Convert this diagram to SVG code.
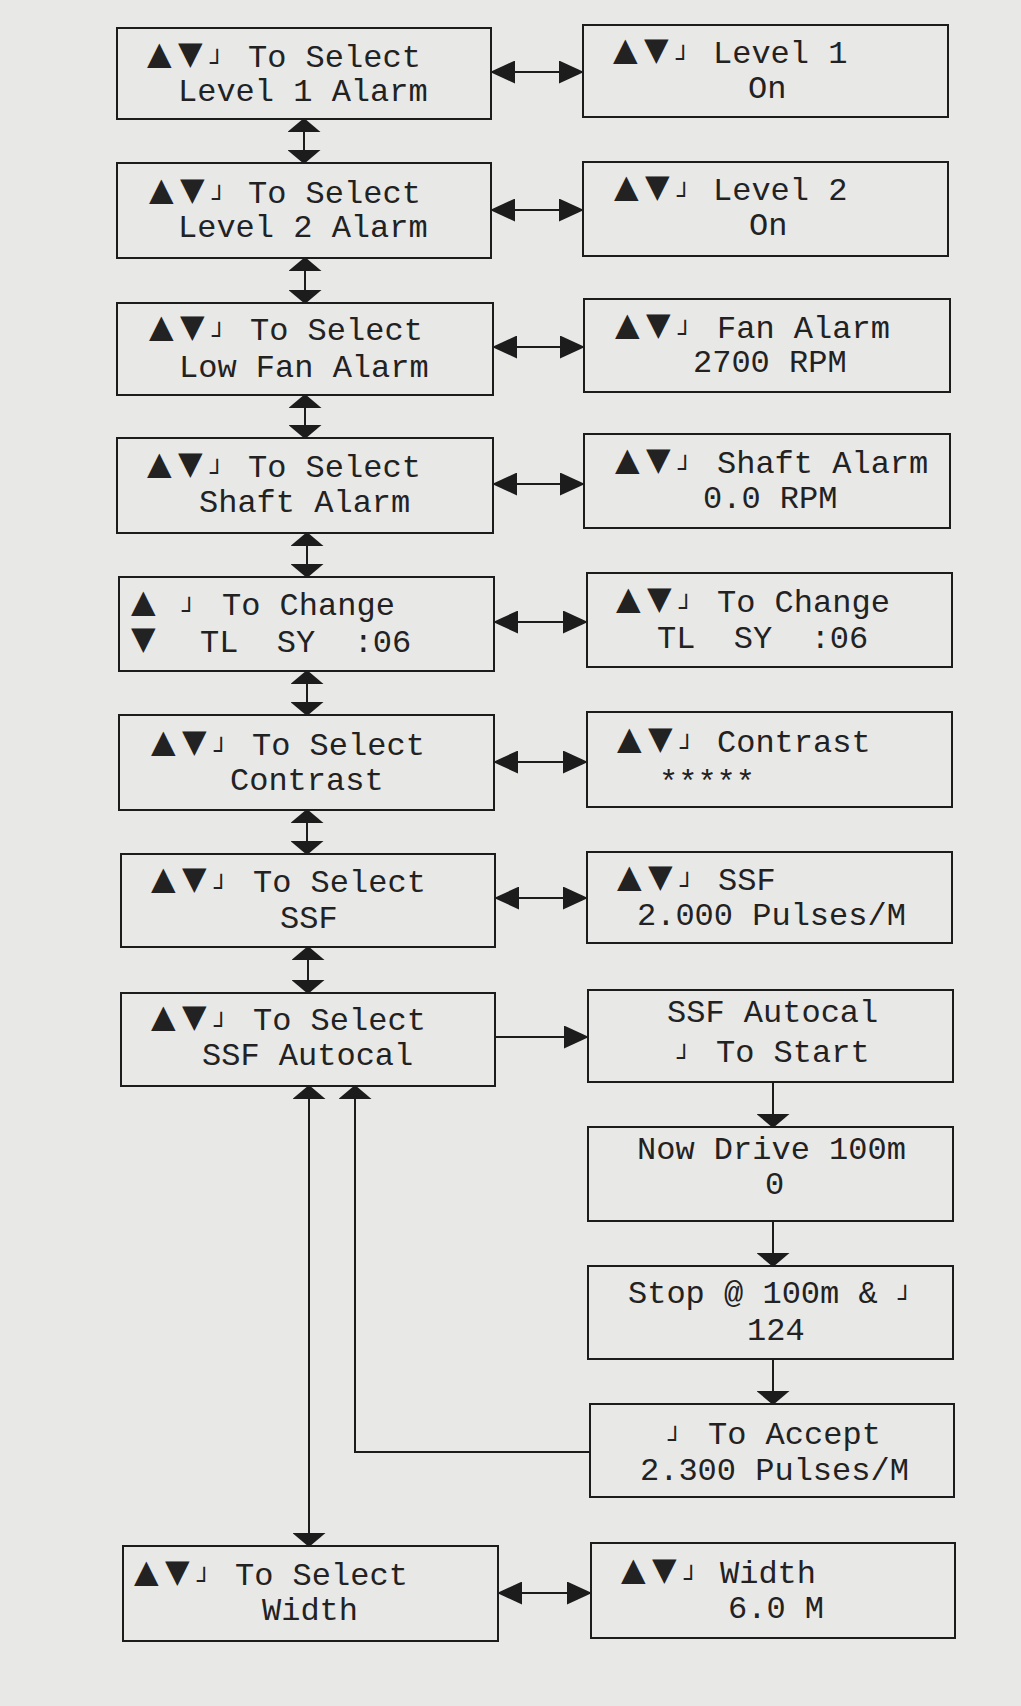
<svg xmlns="http://www.w3.org/2000/svg" width="1021" height="1706" viewBox="0 0 1021 1706">
<style>
.bg{fill:#e8e8e7}
.bx{fill:none;stroke:#1c1c1c;stroke-width:2}
.t{font-family:"Liberation Mono","Courier New",monospace;font-size:32px;fill:#222;white-space:pre}
.s{font-family:"DejaVu Sans",sans-serif;font-size:32px;baseline-shift:3px}
.r{font-family:"DejaVu Sans Mono",monospace;font-size:24px;baseline-shift:-4px}
.c{stroke:#1c1c1c;stroke-width:2;fill:none}
.h{marker-start:url(#ah);marker-end:url(#ah)}
.he{marker-end:url(#ah)}
.v{marker-start:url(#av);marker-end:url(#av)}
.ve{marker-end:url(#av)}
</style>
<defs>
<marker id="ah" viewBox="0 0 25 23" refX="24" refY="11.5" markerWidth="25" markerHeight="23" markerUnits="userSpaceOnUse" orient="auto-start-reverse"><path d="M0,0 L25,11.5 L0,23 z" fill="#1c1c1c"/></marker>
<marker id="av" viewBox="0 0 14 33" refX="13" refY="16.5" markerWidth="14" markerHeight="33" markerUnits="userSpaceOnUse" orient="auto-start-reverse"><path d="M0,0 L14,16.5 L0,33 z" fill="#1c1c1c"/></marker>
</defs>
<rect class="bg" x="0" y="0" width="1021" height="1706"/>

<g id="connectors">
<line class="c h" x1="491" y1="72" x2="583" y2="72"/>
<line class="c h" x1="491" y1="210" x2="583" y2="210"/>
<line class="c h" x1="493" y1="347" x2="584" y2="347"/>
<line class="c h" x1="493" y1="484" x2="584" y2="484"/>
<line class="c h" x1="494" y1="622" x2="587" y2="622"/>
<line class="c h" x1="494" y1="762" x2="587" y2="762"/>
<line class="c h" x1="495" y1="898" x2="587" y2="898"/>
<line class="c he" x1="495" y1="1037" x2="588" y2="1037"/>
<line class="c h" x1="498" y1="1593" x2="591" y2="1593"/>
<line class="c v" x1="304" y1="119" x2="304" y2="163"/>
<line class="c v" x1="305" y1="258" x2="305" y2="303"/>
<line class="c v" x1="305" y1="395" x2="305" y2="438"/>
<line class="c v" x1="307" y1="533" x2="307" y2="577"/>
<line class="c v" x1="307" y1="671" x2="307" y2="715"/>
<line class="c v" x1="307" y1="810" x2="307" y2="854"/>
<line class="c v" x1="308" y1="947" x2="308" y2="993"/>
<line class="c v" x1="309" y1="1086" x2="309" y2="1546"/>
<polyline class="c ve" points="590,1452 355,1452 355,1086"/>
<line class="c ve" x1="773" y1="1082" x2="773" y2="1127"/>
<line class="c ve" x1="773" y1="1221" x2="773" y2="1266"/>
<line class="c ve" x1="773" y1="1359" x2="773" y2="1404"/>
</g>

<g id="L1"><rect class="bx" x="117" y="28" width="374" height="91"/>
<text class="t" y="67"><tspan class="s" x="147">▲</tspan><tspan class="s" x="178">▼</tspan><tspan class="r" x="210">┘</tspan><tspan x="248">To Select</tspan></text>
<text class="t" x="178" y="101">Level 1 Alarm</text></g>

<g id="L2"><rect class="bx" x="117" y="163" width="374" height="95"/>
<text class="t" y="203"><tspan class="s" x="149">▲</tspan><tspan class="s" x="180">▼</tspan><tspan class="r" x="212">┘</tspan><tspan x="248">To Select</tspan></text>
<text class="t" x="178" y="237">Level 2 Alarm</text></g>

<g id="L3"><rect class="bx" x="117" y="303" width="376" height="92"/>
<text class="t" y="340"><tspan class="s" x="149">▲</tspan><tspan class="s" x="180">▼</tspan><tspan class="r" x="212">┘</tspan><tspan x="250">To Select</tspan></text>
<text class="t" x="179" y="377">Low Fan Alarm</text></g>

<g id="L4"><rect class="bx" x="117" y="438" width="376" height="95"/>
<text class="t" y="477"><tspan class="s" x="147">▲</tspan><tspan class="s" x="178">▼</tspan><tspan class="r" x="210">┘</tspan><tspan x="248">To Select</tspan></text>
<text class="t" x="199" y="512">Shaft Alarm</text></g>

<g id="L5"><rect class="bx" x="119" y="577" width="375" height="94"/>
<text class="t" y="615"><tspan class="s" x="131">▲</tspan><tspan class="r" x="182">┘</tspan><tspan x="222">To Change</tspan></text>
<text class="t" y="652" xml:space="preserve"><tspan class="s" x="131">▼</tspan><tspan x="200">TL  SY  :06</tspan></text></g>

<g id="L6"><rect class="bx" x="119" y="715" width="375" height="95"/>
<text class="t" y="755"><tspan class="s" x="151">▲</tspan><tspan class="s" x="182">▼</tspan><tspan class="r" x="214">┘</tspan><tspan x="252">To Select</tspan></text>
<text class="t" x="230" y="790">Contrast</text></g>

<g id="L7"><rect class="bx" x="121" y="854" width="374" height="93"/>
<text class="t" y="892"><tspan class="s" x="151">▲</tspan><tspan class="s" x="182">▼</tspan><tspan class="r" x="214">┘</tspan><tspan x="253">To Select</tspan></text>
<text class="t" x="280" y="928">SSF</text></g>

<g id="L8"><rect class="bx" x="121" y="993" width="374" height="93"/>
<text class="t" y="1030"><tspan class="s" x="151">▲</tspan><tspan class="s" x="182">▼</tspan><tspan class="r" x="214">┘</tspan><tspan x="253">To Select</tspan></text>
<text class="t" x="202" y="1065">SSF Autocal</text></g>

<g id="L9"><rect class="bx" x="123" y="1546" width="375" height="95"/>
<text class="t" y="1585"><tspan class="s" x="134">▲</tspan><tspan class="s" x="165">▼</tspan><tspan class="r" x="197">┘</tspan><tspan x="235">To Select</tspan></text>
<text class="t" x="262" y="1620">Width</text></g>

<g id="R1"><rect class="bx" x="583" y="25" width="365" height="92"/>
<text class="t" y="63"><tspan class="s" x="613">▲</tspan><tspan class="s" x="644">▼</tspan><tspan class="r" x="676">┘</tspan><tspan x="713">Level 1</tspan></text>
<text class="t" x="748" y="98">On</text></g>

<g id="R2"><rect class="bx" x="583" y="162" width="365" height="94"/>
<text class="t" y="200"><tspan class="s" x="614">▲</tspan><tspan class="s" x="645">▼</tspan><tspan class="r" x="677">┘</tspan><tspan x="713">Level 2</tspan></text>
<text class="t" x="749" y="235">On</text></g>

<g id="R3"><rect class="bx" x="584" y="299" width="366" height="93"/>
<text class="t" y="338"><tspan class="s" x="615">▲</tspan><tspan class="s" x="646">▼</tspan><tspan class="r" x="678">┘</tspan><tspan x="717">Fan Alarm</tspan></text>
<text class="t" x="693" y="372">2700 RPM</text></g>

<g id="R4"><rect class="bx" x="584" y="434" width="366" height="94"/>
<text class="t" y="473"><tspan class="s" x="615">▲</tspan><tspan class="s" x="646">▼</tspan><tspan class="r" x="678">┘</tspan><tspan x="717">Shaft Alarm</tspan></text>
<text class="t" x="703" y="508">0.0 RPM</text></g>

<g id="R5"><rect class="bx" x="587" y="573" width="365" height="94"/>
<text class="t" y="612"><tspan class="s" x="616">▲</tspan><tspan class="s" x="647">▼</tspan><tspan class="r" x="679">┘</tspan><tspan x="717">To Change</tspan></text>
<text class="t" x="657" y="648" xml:space="preserve">TL  SY  :06</text></g>

<g id="R6"><rect class="bx" x="587" y="712" width="365" height="95"/>
<text class="t" y="752"><tspan class="s" x="617">▲</tspan><tspan class="s" x="648">▼</tspan><tspan class="r" x="680">┘</tspan><tspan x="717">Contrast</tspan></text>
<text class="t" x="659" y="792">*****</text></g>

<g id="R7"><rect class="bx" x="587" y="852" width="365" height="91"/>
<text class="t" y="890"><tspan class="s" x="617">▲</tspan><tspan class="s" x="648">▼</tspan><tspan class="r" x="680">┘</tspan><tspan x="718">SSF</tspan></text>
<text class="t" x="637" y="925">2.000 Pulses/M</text></g>

<g id="R8"><rect class="bx" x="588" y="990" width="365" height="92"/>
<text class="t" x="667" y="1022">SSF Autocal</text>
<text class="t" y="1062"><tspan class="r" x="677">┘</tspan><tspan x="716">To Start</tspan></text></g>

<g id="R9"><rect class="bx" x="588" y="1127" width="365" height="94"/>
<text class="t" x="637" y="1159">Now Drive 100m</text>
<text class="t" x="765" y="1194">0</text></g>

<g id="R10"><rect class="bx" x="588" y="1266" width="365" height="93"/>
<text class="t" y="1303"><tspan x="628">Stop @ 100m &amp;</tspan><tspan class="r" x="898">┘</tspan></text>
<text class="t" x="747" y="1340">124</text></g>

<g id="R11"><rect class="bx" x="590" y="1404" width="364" height="93"/>
<text class="t" y="1444"><tspan class="r" x="668">┘</tspan><tspan x="708">To Accept</tspan></text>
<text class="t" x="640" y="1480">2.300 Pulses/M</text></g>

<g id="R12"><rect class="bx" x="591" y="1543" width="364" height="95"/>
<text class="t" y="1583"><tspan class="s" x="621">▲</tspan><tspan class="s" x="652">▼</tspan><tspan class="r" x="684">┘</tspan><tspan x="720">Width</tspan></text>
<text class="t" x="728" y="1618">6.0 M</text></g>
</svg>
